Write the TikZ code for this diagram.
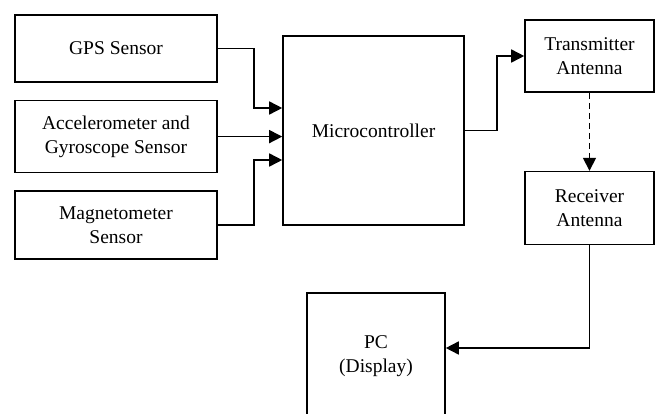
\documentclass[tikz,border=0pt]{standalone}
\usepackage{fontspec}
\setmainfont{Liberation Serif}
\usetikzlibrary{arrows.meta, positioning}

\begin{document}
\begin{tikzpicture}[x=1pt, y=-1pt,
    block/.style=
    {draw, line width=1.6pt, align=center, font=\fontsize{19.5}{24}\selectfont}, sensor/.style=
    {block, minimum width=202pt, minimum height=68pt},
    link/.style={line width=1.6pt, -{Triangle[length=13pt, width=13pt]}},
    node distance = 17pt]
    \useasboundingbox (0,0) rectangle (659,413);
    \clip (0,0) rectangle (659,413);
    \node (gps) [sensor, minimum height=67pt] at (116,48.5) {GPS Sensor};
    \node (acc) [sensor, minimum height=72pt, below= of gps] {Accelerometer and\\Gyroscope Sensor};
    \node (mag) [sensor, below= of acc] {Magnetometer\\Sensor};
    \node (mcu) [block, minimum width=181pt, minimum height=189pt] at (373.5,130.5) {Microcontroller};
    \node (tx) [block, minimum width=129pt, minimum height=72pt] at (589.5,56) {Transmitter\\Antenna};
    \node (rx) [block, minimum width=129pt, minimum height=73pt, below=78pt of tx] {Receiver\\Antenna};
    \node (pc) [block, minimum width=138pt, minimum height=126pt] at (376,356) {PC\\(Display)};
    \draw[link] (gps.east) -- ++(36,0) |- ([yshift=22.5pt]mcu.west);
    \draw[link] (acc.east) -- (acc.east -| mcu.west);
    \draw[link] (mag.east) -- ++(36,0) |- ([yshift=-29.5pt]mcu.west);
    \draw[link] (mcu.east) -- ++(32,0) |- (tx.west);
    \draw[link, dash pattern=on 6pt off 4pt] (tx) -- (rx);
    \draw[link] (rx.south) |- ([yshift=8pt]pc.east);
\end{tikzpicture}
\end{document}
